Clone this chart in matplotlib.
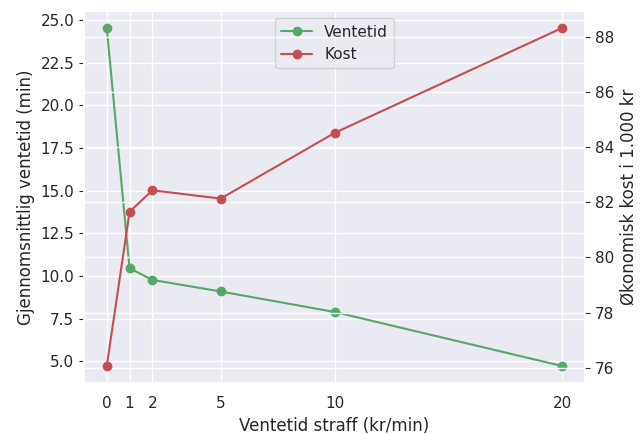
import matplotlib
matplotlib.use("Agg")
import matplotlib.pyplot as plt
import seaborn as sns

straff = [0, 1, 2, 5, 10, 20]
ventetid = [24.55, 10.46, 9.78, 9.1, 7.9, 4.73]
kost = [76.06, 81.65, 82.43, 82.13, 84.51, 88.32]

sns.set_theme(style="darkgrid")

fig, ax = plt.subplots(figsize=(6.41, 4.34), dpi=100)
fig.subplots_adjust(left=0.131, right=0.913, top=0.975, bottom=0.1175)
ax2 = ax.twinx()

l1, = ax.plot(straff, ventetid, "g-o", label="Ventetid")
l2, = ax2.plot(straff, kost, "r-o", label="Kost")

ax.set_xticks(straff)
ax.tick_params(axis="y", left=True, length=3.5, width=0.8, color=".15")
ax2.tick_params(axis="y", right=True, length=3.5, width=0.8, color=".15")
ax.set_xlabel("Ventetid straff (kr/min)")
ax.set_ylabel("Gjennomsnittlig ventetid (min)")
ax2.set_ylabel("Økonomisk kost i 1.000 kr")

ax.legend(handles=[l1, l2], loc="upper center")

fig.savefig("out.png", dpi=100)
